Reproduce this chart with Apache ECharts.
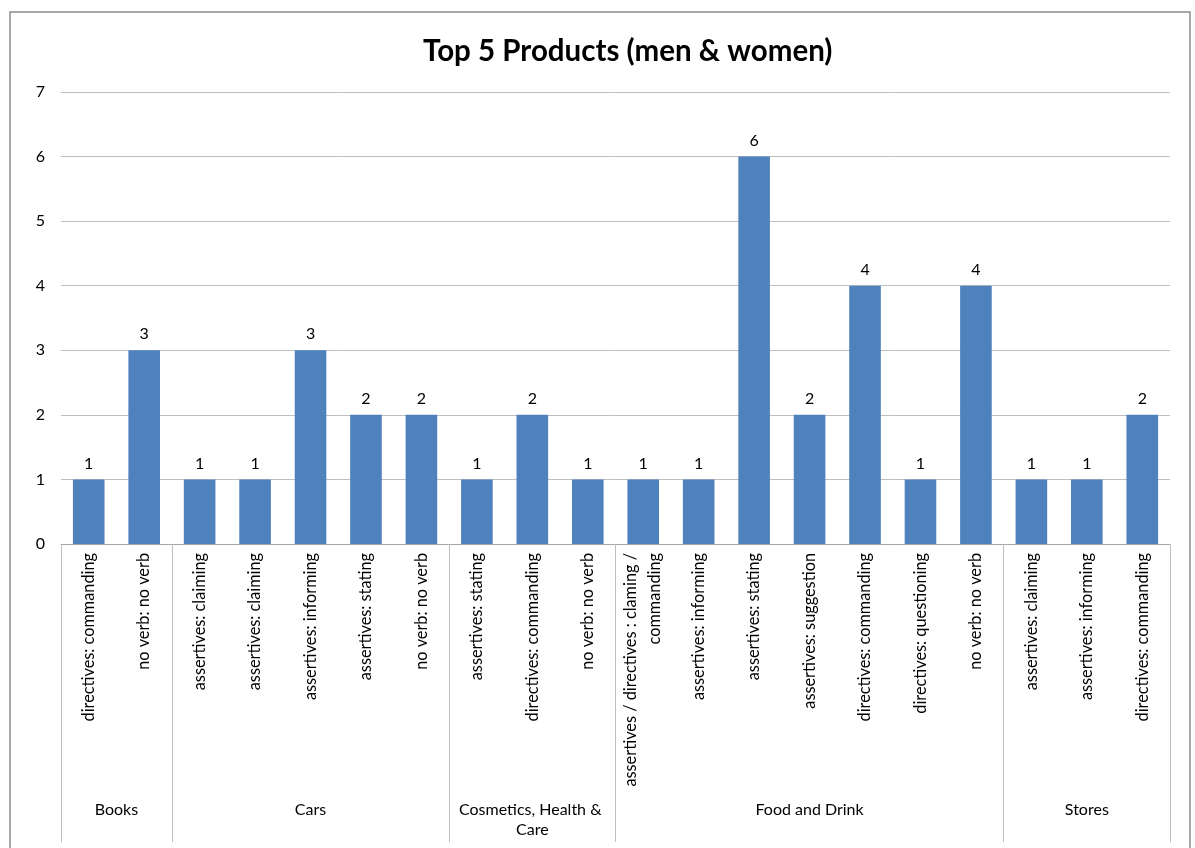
<!DOCTYPE html>
<html>
<head>
<meta charset="utf-8">
<script src="https://cdn.jsdelivr.net/npm/echarts@6/dist/echarts.min.js"></script>
<style>
html,body{margin:0;padding:0;background:#fff;}
#chart{width:1195px;height:848px;}
</style>
</head>
<body>
<div id="chart"></div>
<script>
const titleText = 'Top 5 Products (men & women)';
const categories = [
  'directives: commanding', 'no verb: no verb',
  'assertives: claiming', 'assertives: claiming', 'assertives: informing', 'assertives: stating', 'no verb: no verb',
  'assertives: stating', 'directives: commanding', 'no verb: no verb',
  'assertives / directives : claming / commanding', 'assertives: informing', 'assertives: stating', 'assertives: suggestion', 'directives: commanding', 'directives: questioning', 'no verb: no verb',
  'assertives: claiming', 'assertives: informing', 'directives: commanding'
];
const values = [1, 3, 1, 1, 3, 2, 2, 1, 2, 1, 1, 1, 6, 2, 4, 1, 4, 1, 1, 2];
const groupNames = ['Books', 'Cars', 'Cosmetics, Health & Care', 'Food and Drink', 'Stores'];
const groupSizes = [2, 5, 3, 7, 3];
const yTicks = { min: 0, max: 7, interval: 1 };

const boundaries = [0];
groupSizes.forEach(s => boundaries.push(boundaries[boundaries.length - 1] + s));
const centers = groupSizes.map((s, i) => boundaries[i] + s / 2);
const total = boundaries[boundaries.length - 1];

const FONT = 'Lato, "Open Sans", sans-serif';
const chart = echarts.init(document.getElementById('chart'));
chart.setOption({
  backgroundColor: '#fff',
  animation: false,
  title: {
    text: titleText,
    left: 423,
    top: 36,
    padding: 0,
    textStyle: { fontFamily: FONT, fontWeight: 'bold', fontSize: 29.5, color: '#000' }
  },
  graphic: [{
    type: 'rect', silent: true, z: -1,
    shape: { x: 10, y: 12, width: 1180, height: 900 },
    style: { fill: 'none', stroke: '#8c8c8c', lineWidth: 1.5 }
  }],
  grid: { left: 61, right: 25, top: 92, bottom: 304, containLabel: false },
  xAxis: [{
    type: 'category',
    data: categories,
    position: 'bottom',
    axisLine: { show: true, lineStyle: { color: '#a6a6a6', width: 1 } },
    axisTick: { show: false },
    splitLine: { show: false },
    axisLabel: {
      interval: 0, rotate: 90, margin: 9,
      fontFamily: FONT, fontSize: 16.3, color: '#000',
      width: 234, overflow: 'break', lineHeight: 24
    }
  }, {
    type: 'value',
    min: 0, max: total,
    position: 'bottom',
    axisLine: { show: false },
    splitLine: { show: false },
    axisTick: {
      show: true, inside: false, length: 298,
      customValues: boundaries,
      lineStyle: { color: '#bfbfbf', width: 1 }
    },
    axisLabel: {
      customValues: centers,
      formatter: v => { const i = centers.indexOf(v); return i >= 0 ? groupNames[i] : ''; },
      margin: 256,
      fontFamily: FONT, fontSize: 16, color: '#000',
      width: 150, overflow: 'break', lineHeight: 20
    }
  }],
  yAxis: {
    type: 'value',
    min: yTicks.min, max: yTicks.max, interval: yTicks.interval,
    axisLine: { show: false },
    axisTick: { show: false },
    axisLabel: { margin: 16, fontFamily: FONT, fontSize: 16, color: '#000' },
    splitLine: { lineStyle: { color: '#bfbfbf', width: 1 } }
  },
  series: [{
    type: 'bar',
    xAxisIndex: 0, yAxisIndex: 0,
    data: values,
    barWidth: '57%',
    itemStyle: { color: '#4f81bd' },
    label: { show: true, position: 'top', distance: 8, fontFamily: FONT, fontSize: 16, color: '#000' }
  }]
});
</script>
</body>
</html>
